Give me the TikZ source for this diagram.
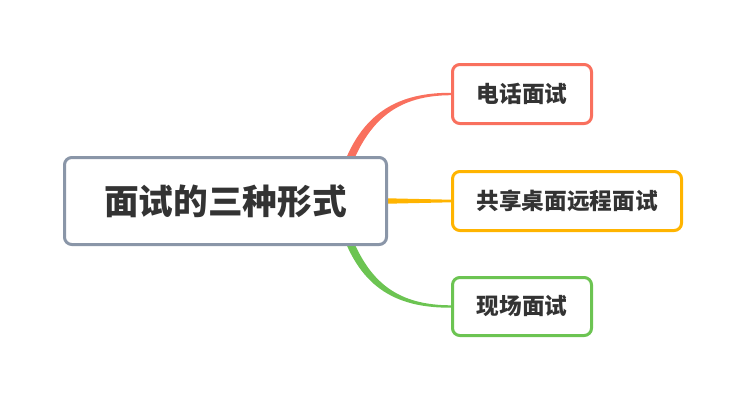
\documentclass[tikz,border=0pt]{standalone}
\usepackage{fontspec}
\setmainfont{Noto Sans CJK SC}
\usetikzlibrary{calc,backgrounds}
\definecolor{cred}{HTML}{F9705E}
\definecolor{corange}{HTML}{FFB400}
\definecolor{cgreen}{HTML}{6CC452}
\definecolor{cgray}{HTML}{8A96A8}
\definecolor{ctext}{HTML}{333333}
\begin{document}
\begin{tikzpicture}[x=0.75pt,y=-0.75pt,
  box/.style={draw, fill=white, rounded corners=5.5pt, line width=2.25pt, text=ctext, font=\bfseries\fontsize{17}{20}\selectfont, inner sep=0pt, minimum height=59*0.75pt},
  rootbox/.style={box, draw=cgray, minimum width=322*0.75pt, minimum height=87*0.75pt, font=\bfseries\fontsize{26}{30}\selectfont},
]
\useasboundingbox (0,0) rectangle (745,400);
\node[rootbox] (root) at (225.5,201) {面试的三种形式};
\node[box, draw=cred, minimum width=139*0.75pt] (phone) at (522,94) {电话面试};
\node[box, draw=corange, minimum width=229*0.75pt] (shared) at (567,201) {共享桌面远程面试};
\node[box, draw=cgreen, minimum width=139*0.75pt, minimum height=58*0.75pt] (onsite) at (522,306.5) {现场面试};
\begin{scope}[on background layer]
\coordinate (rs) at (344,175);
\coordinate (gs) at (344,227);
\fill[cred] ($(rs)+(-4,0)$) .. controls (360,111) and (400,92.6) .. ($(phone.west)+(0,-1.2)$) -- ($(phone.west)+(0,1.2)$) .. controls (400,95.4) and (368,117) .. ($(rs)+(4,0)$) -- cycle;
\fill[cgreen] ($(gs)+(-4,0)$) .. controls (360,291) and (400,307.9) .. ($(onsite.west)+(0,1.2)$) -- ($(onsite.west)+(0,-1.2)$) .. controls (400,305.1) and (368,285) .. ($(gs)+(4,0)$) -- cycle;
\fill[corange] ($(root.east)+(-5,-2.8)$) -- ($(shared.west)+(0,-1.3)$) -- ($(shared.west)+(0,1.3)$) -- ($(root.east)+(-5,2.8)$) -- cycle;
\end{scope}
\end{tikzpicture}
\end{document}
